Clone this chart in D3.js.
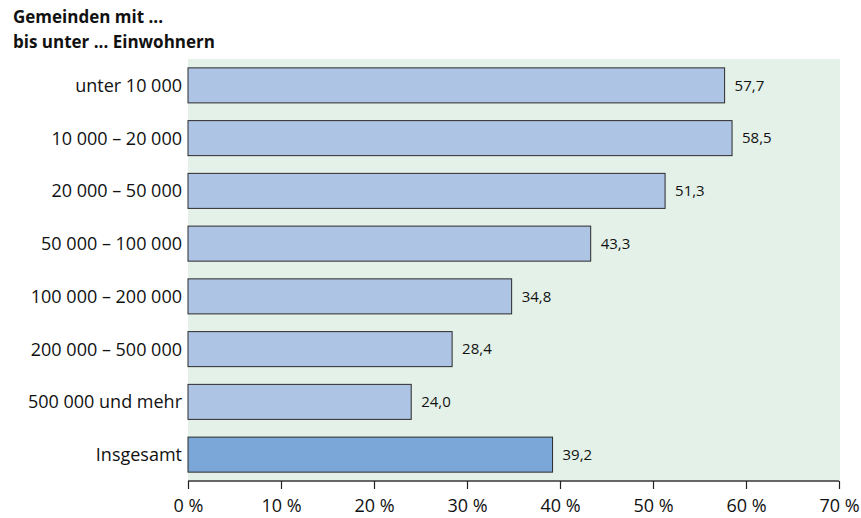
<!DOCTYPE html>
<html><head><meta charset="utf-8">
<script src="https://cdn.jsdelivr.net/npm/d3@7"></script>
<style>body{margin:0;background:#fff}svg{display:block}text{font-family:"Open Sans","Noto Sans",sans-serif;fill:#111}</style>
</head><body><svg id="c" width="861" height="518"></svg>
<script>
const categories = ["unter 10 000","10 000 – 20 000","20 000 – 50 000","50 000 – 100 000","100 000 – 200 000","200 000 – 500 000","500 000 und mehr","Insgesamt"];
const values = [57.7, 58.5, 51.3, 43.3, 34.8, 28.4, 24.0, 39.2];
const ticks = [0,10,20,30,40,50,60,70];
const titleLines = ["Gemeinden mit ...","bis unter ... Einwohnern"];

(function(){
const svg = d3.select("#c");
const pLeft = 188, pRight = 839, pTop = 59, pBottom = 481;
const x = d3.scaleLinear().domain([0,70]).range([pLeft,pRight]);
const y = d3.scaleBand().domain(categories).range([pTop,pBottom]).paddingInner(0.336).paddingOuter(0.168);

svg.append("rect").attr("x",pLeft).attr("y",pTop).attr("width",pRight-pLeft+1).attr("height",pBottom-pTop).attr("fill","#e4f1e8");

svg.selectAll("text.title").data(titleLines).enter().append("text")
  .attr("x",13).attr("y",(d,i)=>23+i*25).attr("font-size",17).attr("font-weight","bold").text(d=>d);

svg.selectAll("rect.bar").data(values).enter().append("rect")
  .attr("x",x(0)).attr("y",(d,i)=>y(categories[i]))
  .attr("width",d=>x(d)-x(0)).attr("height",y.bandwidth())
  .attr("fill",(d,i)=>categories[i]==="Insgesamt"?"#7ba7d8":"#aec4e4")
  .attr("stroke","#2a2a2a").attr("stroke-width",1);

svg.selectAll("text.val").data(values).enter().append("text")
  .attr("x",d=>x(d)+10).attr("y",(d,i)=>y(categories[i])+y.bandwidth()/2)
  .attr("dy","0.35em").attr("font-size",15)
  .text(d=>d.toFixed(1).replace(".",","));

svg.selectAll("text.cat").data(categories).enter().append("text")
  .attr("x",182).attr("y",d=>y(d)+y.bandwidth()/2).attr("dy","0.36em")
  .attr("text-anchor","end").attr("font-size",18).text(d=>d);

const axis = d3.axisBottom(x).tickValues(ticks).tickSize(8).tickFormat(d=>d+" %");
const g = svg.append("g").attr("transform",`translate(0,${pBottom})`).call(axis);
g.select(".domain").attr("stroke","#666").attr("stroke-width",2).attr("d",`M${pLeft},0H${pRight}`);
g.selectAll(".tick line").attr("stroke","#222").attr("stroke-width",1.2);
g.selectAll(".tick text").attr("font-size",18).attr("fill","#111").attr("y",18)
  .style("font-family",'"Open Sans","Noto Sans",sans-serif');
})();
</script></body></html>
